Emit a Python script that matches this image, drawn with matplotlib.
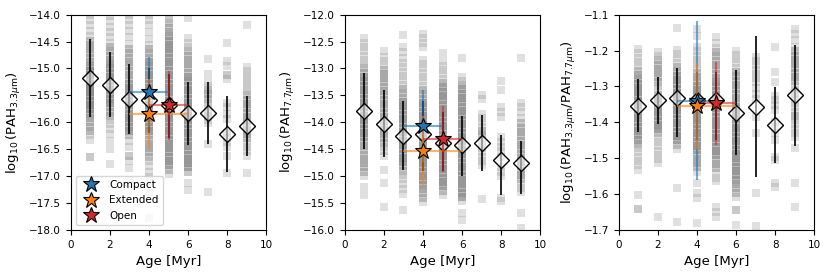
import numpy as np
import matplotlib.pyplot as plt
from matplotlib.lines import Line2D

ages = [1, 2, 3, 4, 5, 6, 7, 8, 9]

# individual regions per age bin: (value, number of points at ~that value)
pah33_pts = [
    [(-14.00, 1), (-14.10, 1), (-14.20, 1), (-14.30, 1), (-14.40, 1), (-14.48, 2), (-14.56, 2), (-14.64, 2),
     (-14.72, 2), (-14.80, 2), (-14.88, 2), (-14.96, 3), (-15.04, 4), (-15.12, 4), (-15.20, 4), (-15.28, 4),
     (-15.36, 4), (-15.44, 4), (-15.52, 4), (-15.60, 4), (-15.68, 4), (-15.76, 4), (-15.84, 3), (-15.92, 2),
     (-16.00, 2), (-16.08, 2), (-16.16, 2), (-16.24, 1), (-16.32, 1), (-16.64, 2)],
    [(-14.02, 1), (-14.12, 1), (-14.22, 1), (-14.32, 1), (-14.42, 1), (-14.52, 1), (-14.60, 2), (-14.68, 2),
     (-14.76, 2), (-14.84, 2), (-14.92, 3), (-15.00, 3), (-15.08, 3), (-15.16, 3), (-15.24, 3), (-15.32, 3),
     (-15.40, 3), (-15.48, 3), (-15.56, 3), (-15.64, 3), (-15.72, 2), (-15.80, 2), (-15.88, 2), (-15.96, 1),
     (-16.04, 1), (-16.12, 1), (-16.22, 1), (-16.34, 1), (-16.50, 1), (-16.78, 1)],
    [(-14.00, 1), (-14.10, 1), (-14.20, 1), (-14.30, 1), (-14.42, 1), (-14.54, 1), (-14.64, 2), (-14.72, 2),
     (-14.80, 2), (-14.88, 2), (-14.96, 2), (-15.04, 2), (-15.12, 2), (-15.20, 2), (-15.28, 3), (-15.36, 3),
     (-15.44, 3), (-15.52, 3), (-15.60, 3), (-15.68, 3), (-15.76, 3), (-15.84, 3), (-15.92, 3), (-16.00, 3),
     (-16.08, 3), (-16.16, 3), (-16.24, 2), (-16.34, 1), (-16.45, 1), (-16.62, 2), (-16.72, 1), (-16.85, 1),
     (-17.07, 1)],
    [(-14.00, 1), (-14.10, 1), (-14.20, 1), (-14.32, 1), (-14.45, 1), (-14.56, 1), (-14.64, 2), (-14.72, 2),
     (-14.80, 2), (-14.88, 3), (-14.96, 3), (-15.04, 3), (-15.12, 3), (-15.20, 3), (-15.28, 3), (-15.36, 3),
     (-15.44, 3), (-15.52, 3), (-15.60, 3), (-15.68, 3), (-15.76, 3), (-15.84, 3), (-15.92, 3), (-16.00, 3),
     (-16.08, 3), (-16.16, 3), (-16.24, 2), (-16.32, 2), (-16.40, 2), (-16.48, 2), (-16.56, 2), (-16.64, 2),
     (-16.72, 1), (-16.82, 1), (-16.92, 1), (-17.02, 1), (-17.30, 1), (-17.78, 1)],
    [(-14.00, 1), (-14.08, 1), (-14.16, 2), (-14.24, 2), (-14.32, 2), (-14.40, 3), (-14.48, 3), (-14.56, 3),
     (-14.64, 3), (-14.72, 3), (-14.80, 3), (-14.88, 3), (-14.96, 3), (-15.04, 3), (-15.12, 3), (-15.20, 3),
     (-15.28, 3), (-15.36, 3), (-15.44, 3), (-15.52, 3), (-15.60, 3), (-15.68, 3), (-15.76, 3), (-15.84, 3),
     (-15.92, 3), (-16.00, 3), (-16.08, 3), (-16.16, 3), (-16.24, 3), (-16.32, 3), (-16.40, 3), (-16.48, 3),
     (-16.56, 3), (-16.64, 3), (-16.72, 3), (-16.80, 3), (-16.88, 2), (-16.96, 1)],
    [(-14.07, 1), (-14.44, 1), (-14.52, 1), (-14.60, 1), (-14.68, 2), (-14.76, 2), (-14.84, 2), (-14.92, 2),
     (-15.00, 2), (-15.08, 2), (-15.16, 3), (-15.24, 3), (-15.32, 3), (-15.40, 3), (-15.48, 3), (-15.56, 3),
     (-15.64, 3), (-15.72, 3), (-15.80, 3), (-15.88, 3), (-15.96, 3), (-16.04, 3), (-16.12, 3), (-16.20, 3),
     (-16.28, 3), (-16.36, 3), (-16.44, 3), (-16.52, 3), (-16.60, 3), (-16.68, 3), (-16.76, 3), (-16.84, 3),
     (-16.92, 2), (-17.13, 1), (-17.26, 1)],
    [(-14.83, 1), (-15.10, 1), (-15.25, 1), (-15.32, 1), (-15.40, 2), (-15.48, 2), (-15.56, 2), (-15.64, 1),
     (-15.72, 1), (-15.80, 2), (-15.88, 2), (-15.96, 1), (-16.02, 1), (-16.40, 1), (-17.29, 1)],
    [(-14.53, 1), (-14.87, 1), (-14.95, 1), (-15.12, 2), (-15.20, 1), (-15.65, 1), (-15.72, 1), (-15.85, 1),
     (-15.93, 1), (-16.20, 2), (-16.30, 1), (-16.37, 1), (-16.45, 1), (-16.62, 1), (-16.95, 1)],
    [(-14.19, 1), (-14.97, 1), (-15.05, 1), (-15.12, 1), (-15.20, 1), (-15.27, 1), (-15.35, 1), (-15.42, 1),
     (-15.50, 2), (-15.58, 2), (-15.66, 2), (-15.74, 2), (-15.82, 2), (-15.90, 2), (-15.98, 2), (-16.06, 2),
     (-16.14, 2), (-16.22, 2), (-16.30, 2), (-16.38, 1), (-16.46, 1), (-16.54, 1), (-16.62, 1), (-16.95, 1)],
]

pah77_pts = [
    [(-12.44, 1), (-12.52, 1), (-12.60, 1), (-12.68, 1), (-12.76, 1), (-12.84, 1), (-12.92, 1), (-13.00, 2),
     (-13.08, 2), (-13.16, 3), (-13.24, 3), (-13.32, 3), (-13.40, 3), (-13.48, 3), (-13.56, 3), (-13.64, 3),
     (-13.72, 3), (-13.80, 3), (-13.88, 3), (-13.96, 3), (-14.04, 3), (-14.12, 3), (-14.20, 3), (-14.28, 3),
     (-14.36, 2), (-14.44, 2), (-14.52, 2), (-14.60, 2), (-14.68, 2), (-14.76, 2), (-14.84, 2), (-14.92, 2),
     (-15.00, 1), (-15.20, 1), (-15.35, 1)],
    [(-12.67, 1), (-12.78, 1), (-12.86, 1), (-12.94, 1), (-13.02, 2), (-13.10, 2), (-13.18, 2), (-13.26, 2),
     (-13.34, 2), (-13.42, 2), (-13.50, 2), (-13.58, 2), (-13.66, 2), (-13.74, 2), (-13.82, 2), (-13.90, 2),
     (-13.98, 2), (-14.06, 2), (-14.14, 2), (-14.22, 2), (-14.30, 2), (-14.38, 2), (-14.46, 1), (-14.54, 1),
     (-14.62, 1), (-14.89, 1), (-15.12, 1), (-15.57, 1)],
    [(-12.38, 1), (-12.60, 1), (-12.70, 1), (-12.80, 1), (-12.90, 1), (-12.98, 1), (-13.06, 1), (-13.14, 1),
     (-13.22, 1), (-13.30, 1), (-13.38, 2), (-13.46, 2), (-13.54, 2), (-13.62, 3), (-13.70, 3), (-13.78, 3),
     (-13.86, 3), (-13.94, 3), (-14.02, 3), (-14.10, 3), (-14.18, 3), (-14.26, 3), (-14.34, 3), (-14.42, 3),
     (-14.50, 3), (-14.58, 3), (-14.66, 3), (-14.74, 3), (-14.82, 2), (-14.90, 2), (-14.98, 1), (-15.06, 1),
     (-15.14, 1), (-15.24, 1), (-15.34, 1), (-15.63, 1)],
    [(-12.36, 1), (-12.44, 1), (-12.52, 1), (-12.60, 1), (-12.84, 1), (-12.92, 1), (-13.00, 1), (-13.08, 1),
     (-13.16, 1), (-13.24, 1), (-13.32, 1), (-13.40, 2), (-13.48, 2), (-13.56, 2), (-13.64, 3), (-13.72, 3),
     (-13.80, 3), (-13.88, 3), (-13.96, 3), (-14.04, 3), (-14.12, 3), (-14.20, 3), (-14.28, 3), (-14.36, 3),
     (-14.44, 3), (-14.52, 3), (-14.60, 3), (-14.68, 3), (-14.76, 3), (-14.84, 3), (-14.92, 3), (-15.00, 3),
     (-15.08, 3), (-15.16, 3), (-15.24, 2), (-15.32, 2), (-15.40, 2), (-15.48, 1)],
    [(-12.72, 1), (-12.87, 1), (-12.95, 1), (-13.03, 1), (-13.11, 1), (-13.19, 1), (-13.27, 2), (-13.35, 3),
     (-13.43, 3), (-13.51, 3), (-13.59, 3), (-13.67, 3), (-13.75, 3), (-13.83, 3), (-13.91, 3), (-13.99, 3),
     (-14.07, 3), (-14.15, 3), (-14.23, 3), (-14.31, 3), (-14.39, 3), (-14.47, 3), (-14.55, 3), (-14.63, 3),
     (-14.71, 3), (-14.79, 3), (-14.87, 3), (-14.95, 3), (-15.03, 3), (-15.11, 3), (-15.19, 3), (-15.27, 2),
     (-15.35, 1)],
    [(-12.80, 1), (-13.15, 1), (-13.23, 1), (-13.31, 2), (-13.39, 3), (-13.47, 3), (-13.55, 3), (-13.63, 3),
     (-13.71, 3), (-13.79, 3), (-13.87, 3), (-13.95, 3), (-14.03, 3), (-14.11, 3), (-14.19, 3), (-14.27, 3),
     (-14.35, 3), (-14.43, 3), (-14.51, 3), (-14.59, 3), (-14.67, 3), (-14.75, 3), (-14.83, 3), (-14.91, 3),
     (-14.99, 3), (-15.07, 3), (-15.15, 3), (-15.23, 3), (-15.31, 3), (-15.39, 3), (-15.47, 1), (-15.68, 1),
     (-15.81, 1)],
    [(-13.50, 1), (-13.56, 1), (-13.84, 1), (-13.92, 1), (-14.00, 1), (-14.08, 1), (-14.16, 2), (-14.24, 2),
     (-14.32, 1), (-14.40, 1), (-14.48, 1), (-14.56, 1), (-14.64, 1), (-14.72, 1), (-14.80, 1), (-15.42, 1)],
    [(-13.23, 1), (-13.40, 1), (-13.72, 1), (-13.81, 1), (-13.90, 1), (-14.27, 1), (-14.36, 1), (-14.45, 1),
     (-14.54, 1), (-14.64, 1), (-14.83, 1), (-14.92, 1), (-15.00, 1), (-15.41, 1), (-15.47, 1)],
    [(-12.80, 1), (-13.65, 1), (-13.72, 1), (-13.80, 1), (-13.92, 1), (-14.02, 2), (-14.10, 2), (-14.18, 2),
     (-14.26, 2), (-14.34, 2), (-14.42, 2), (-14.50, 2), (-14.58, 2), (-14.66, 2), (-14.74, 2), (-14.82, 2),
     (-14.90, 2), (-14.98, 2), (-15.06, 2), (-15.14, 1), (-15.22, 1), (-15.30, 1), (-15.69, 1), (-15.97, 1)],
]

ratio_pts = [
    [(-1.196, 1), (-1.208, 1), (-1.220, 1), (-1.232, 1), (-1.244, 1), (-1.256, 2), (-1.268, 2), (-1.280, 3),
     (-1.292, 3), (-1.304, 3), (-1.316, 3), (-1.328, 3), (-1.340, 3), (-1.352, 3), (-1.364, 3), (-1.376, 3),
     (-1.388, 3), (-1.400, 3), (-1.412, 3), (-1.424, 3), (-1.436, 3), (-1.448, 3), (-1.460, 2), (-1.472, 1),
     (-1.484, 1), (-1.496, 1), (-1.508, 1), (-1.520, 1), (-1.533, 1), (-1.602, 1), (-1.641, 2)],
    [(-1.203, 1), (-1.215, 1), (-1.227, 2), (-1.239, 2), (-1.251, 2), (-1.263, 2), (-1.275, 2), (-1.287, 2),
     (-1.299, 1), (-1.311, 1), (-1.323, 2), (-1.335, 3), (-1.347, 3), (-1.359, 3), (-1.371, 3), (-1.383, 3),
     (-1.395, 3), (-1.407, 3), (-1.419, 3), (-1.431, 2), (-1.443, 1), (-1.455, 1), (-1.467, 1), (-1.479, 1),
     (-1.491, 1), (-1.503, 1), (-1.514, 1), (-1.663, 1)],
    [(-1.138, 1), (-1.198, 1), (-1.210, 1), (-1.222, 1), (-1.234, 1), (-1.246, 2), (-1.258, 2), (-1.270, 3),
     (-1.282, 3), (-1.294, 3), (-1.306, 3), (-1.318, 3), (-1.330, 3), (-1.342, 3), (-1.354, 3), (-1.366, 3),
     (-1.378, 3), (-1.390, 3), (-1.402, 3), (-1.414, 3), (-1.426, 3), (-1.438, 3), (-1.450, 3), (-1.462, 2),
     (-1.474, 1), (-1.584, 1), (-1.677, 1)],
    [(-1.140, 1), (-1.160, 1), (-1.190, 1), (-1.202, 1), (-1.214, 1), (-1.226, 1), (-1.238, 1), (-1.250, 1),
     (-1.262, 2), (-1.274, 2), (-1.286, 2), (-1.298, 3), (-1.310, 3), (-1.322, 3), (-1.334, 3), (-1.346, 3),
     (-1.358, 3), (-1.370, 3), (-1.382, 3), (-1.394, 3), (-1.406, 3), (-1.418, 3), (-1.430, 3), (-1.442, 3),
     (-1.454, 3), (-1.466, 3), (-1.478, 3), (-1.490, 2), (-1.502, 2), (-1.514, 2), (-1.526, 2), (-1.538, 1),
     (-1.570, 1), (-1.598, 1), (-1.610, 1), (-1.682, 1)],
    [(-1.161, 1), (-1.180, 1), (-1.192, 1), (-1.204, 2), (-1.216, 2), (-1.228, 2), (-1.240, 2), (-1.252, 2),
     (-1.264, 2), (-1.276, 2), (-1.288, 3), (-1.300, 3), (-1.312, 3), (-1.324, 3), (-1.336, 3), (-1.348, 3),
     (-1.360, 3), (-1.372, 3), (-1.384, 3), (-1.396, 3), (-1.408, 3), (-1.420, 3), (-1.432, 3), (-1.444, 3),
     (-1.456, 3), (-1.468, 3), (-1.480, 3), (-1.492, 3), (-1.504, 2), (-1.516, 2), (-1.528, 2), (-1.542, 1),
     (-1.554, 1), (-1.565, 1), (-1.635, 1), (-1.650, 1), (-1.663, 1)],
    [(-1.200, 1), (-1.212, 1), (-1.224, 1), (-1.236, 1), (-1.248, 1), (-1.260, 2), (-1.272, 2), (-1.284, 2),
     (-1.296, 2), (-1.308, 2), (-1.320, 2), (-1.332, 2), (-1.344, 2), (-1.356, 3), (-1.368, 3), (-1.380, 3),
     (-1.392, 3), (-1.404, 3), (-1.416, 3), (-1.428, 3), (-1.440, 3), (-1.452, 3), (-1.464, 3), (-1.476, 3),
     (-1.488, 3), (-1.500, 3), (-1.512, 3), (-1.524, 3), (-1.536, 3), (-1.548, 3), (-1.560, 3), (-1.572, 2),
     (-1.584, 2), (-1.596, 2), (-1.608, 1), (-1.644, 2), (-1.686, 1)],
    [(-1.217, 1), (-1.229, 1), (-1.241, 1), (-1.253, 1), (-1.265, 1), (-1.277, 1), (-1.289, 1), (-1.305, 1),
     (-1.320, 1), (-1.335, 1), (-1.384, 1), (-1.430, 1), (-1.597, 1), (-1.690, 1)],
    [(-1.189, 1), (-1.261, 1), (-1.287, 1), (-1.326, 1), (-1.338, 1), (-1.352, 1), (-1.366, 1), (-1.400, 1),
     (-1.412, 1), (-1.430, 1), (-1.449, 1), (-1.496, 1), (-1.505, 1), (-1.570, 1), (-1.579, 1)],
    [(-1.140, 1), (-1.155, 1), (-1.170, 1), (-1.190, 1), (-1.202, 2), (-1.214, 2), (-1.226, 2), (-1.238, 2),
     (-1.250, 2), (-1.262, 2), (-1.274, 2), (-1.286, 2), (-1.298, 1), (-1.310, 1), (-1.322, 2), (-1.334, 1),
     (-1.346, 1), (-1.358, 1), (-1.370, 1), (-1.382, 2), (-1.394, 1), (-1.406, 1), (-1.418, 1), (-1.430, 1),
     (-1.442, 1), (-1.472, 1), (-1.568, 1), (-1.635, 1)],
]

# median per age bin and the 16th / 84th percentile values
pah33_med = [-15.18, -15.30, -15.57, -15.58, -15.68, -15.83, -15.82, -16.22, -16.07]
pah33_hi = [-14.45, -14.70, -14.92, -15.00, -15.10, -15.25, -15.25, -15.52, -15.52]
pah33_lo = [-15.90, -15.90, -16.22, -16.20, -16.30, -16.42, -16.40, -16.92, -16.62]

pah77_med = [-13.79, -14.03, -14.25, -14.22, -14.38, -14.43, -14.39, -14.71, -14.76]
pah77_hi = [-13.08, -13.40, -13.60, -13.60, -13.80, -13.88, -13.86, -14.23, -14.35]
pah77_lo = [-14.50, -14.64, -14.89, -14.90, -14.90, -14.99, -14.90, -15.36, -15.34]

ratio_med = [-1.354, -1.338, -1.332, -1.338, -1.338, -1.375, -1.356, -1.408, -1.324]
ratio_hi = [-1.279, -1.273, -1.250, -1.260, -1.260, -1.253, -1.160, -1.302, -1.185]
ratio_lo = [-1.426, -1.405, -1.442, -1.450, -1.450, -1.491, -1.553, -1.514, -1.465]

# cluster classes: age, age range, value, error
classes = ['Compact', 'Extended', 'Open']
class_colors = ['tab:blue', 'tab:orange', 'tab:red']
class_age = [4, 4, 5]
class_age_lo = [3, 3, 4]
class_age_hi = [5, 6, 6]
pah33_class = [-15.43, -15.85, -15.68]
pah33_class_err = [0.65, 0.65, 0.64]
pah77_class = [-14.07, -14.53, -14.31]
pah77_class_err = [0.67, 0.64, 0.62]
ratio_class = [-1.340, -1.354, -1.347]
ratio_class_err = [0.222, 0.12, 0.115]

panels = [
    (pah33_pts, pah33_med, pah33_lo, pah33_hi, pah33_class, pah33_class_err,
     r'$\log_{10}$(PAH$_{3.3\mu{\rm m}}$)', (-18, -14), 0.5),
    (pah77_pts, pah77_med, pah77_lo, pah77_hi, pah77_class, pah77_class_err,
     r'$\log_{10}$(PAH$_{7.7\mu{\rm m}}$)', (-16, -12), 0.5),
    (ratio_pts, ratio_med, ratio_lo, ratio_hi, ratio_class, ratio_class_err,
     r'$\log_{10}$(PAH$_{3.3\mu{\rm m}}$/PAH$_{7.7\mu{\rm m}}$)', (-1.7, -1.1), 0.1),
]

fig, axes = plt.subplots(1, 3, figsize=(8.3, 2.77), dpi=100)
fig.subplots_adjust(left=0.0852, right=0.9811, bottom=0.170, top=0.947, wspace=0.40)

for ax, (pts, med, lo, hi, cval, cerr, ylab, ylim, step) in zip(axes, panels):
    for age, col in zip(ages, pts):
        vals = np.array([v for v, n in col])
        cnts = np.array([n for v, n in col])
        yy = np.repeat(vals, cnts)
        ax.scatter(np.full(len(yy), age), yy, marker='s', s=26, c='gray',
                   alpha=0.24, lw=0, zorder=1)

    med = np.array(med)
    ax.errorbar(ages, med, yerr=[med - np.array(lo), np.array(hi) - med], fmt='none',
                ecolor='k', elinewidth=1.2, zorder=2)
    ax.plot(ages, med, ls='none', marker='D', ms=8, mfc=(1, 1, 1, 0.55), mec='k',
            mew=1.0, zorder=3)

    for i in range(3):
        ax.errorbar(class_age[i], cval[i],
                    xerr=[[class_age[i] - class_age_lo[i]], [class_age_hi[i] - class_age[i]]],
                    yerr=cerr[i], fmt='none', ecolor=class_colors[i], alpha=0.6,
                    elinewidth=1.5, zorder=4)
        ax.plot(class_age[i], cval[i], ls='none', marker='*', ms=12,
                mfc=class_colors[i], mec='k', mew=0.8, zorder=5)

    ax.set_xlim(0, 10)
    ax.set_ylim(*ylim)
    ax.set_yticks(np.arange(ylim[0], ylim[1] + step / 2, step))
    ax.set_xticks([0, 2, 4, 6, 8, 10])
    ax.tick_params(labelsize=7.5)
    ax.set_xlabel('Age [Myr]', fontsize=9.5)
    ax.set_ylabel(ylab, fontsize=9.5)

handles = [Line2D([], [], ls='none', marker='*', ms=12, mfc=c, mec='k', mew=0.8)
           for c in class_colors]
axes[0].legend(handles, classes, loc='lower left', fontsize=7.5)

plt.savefig('out.png', dpi=100)
